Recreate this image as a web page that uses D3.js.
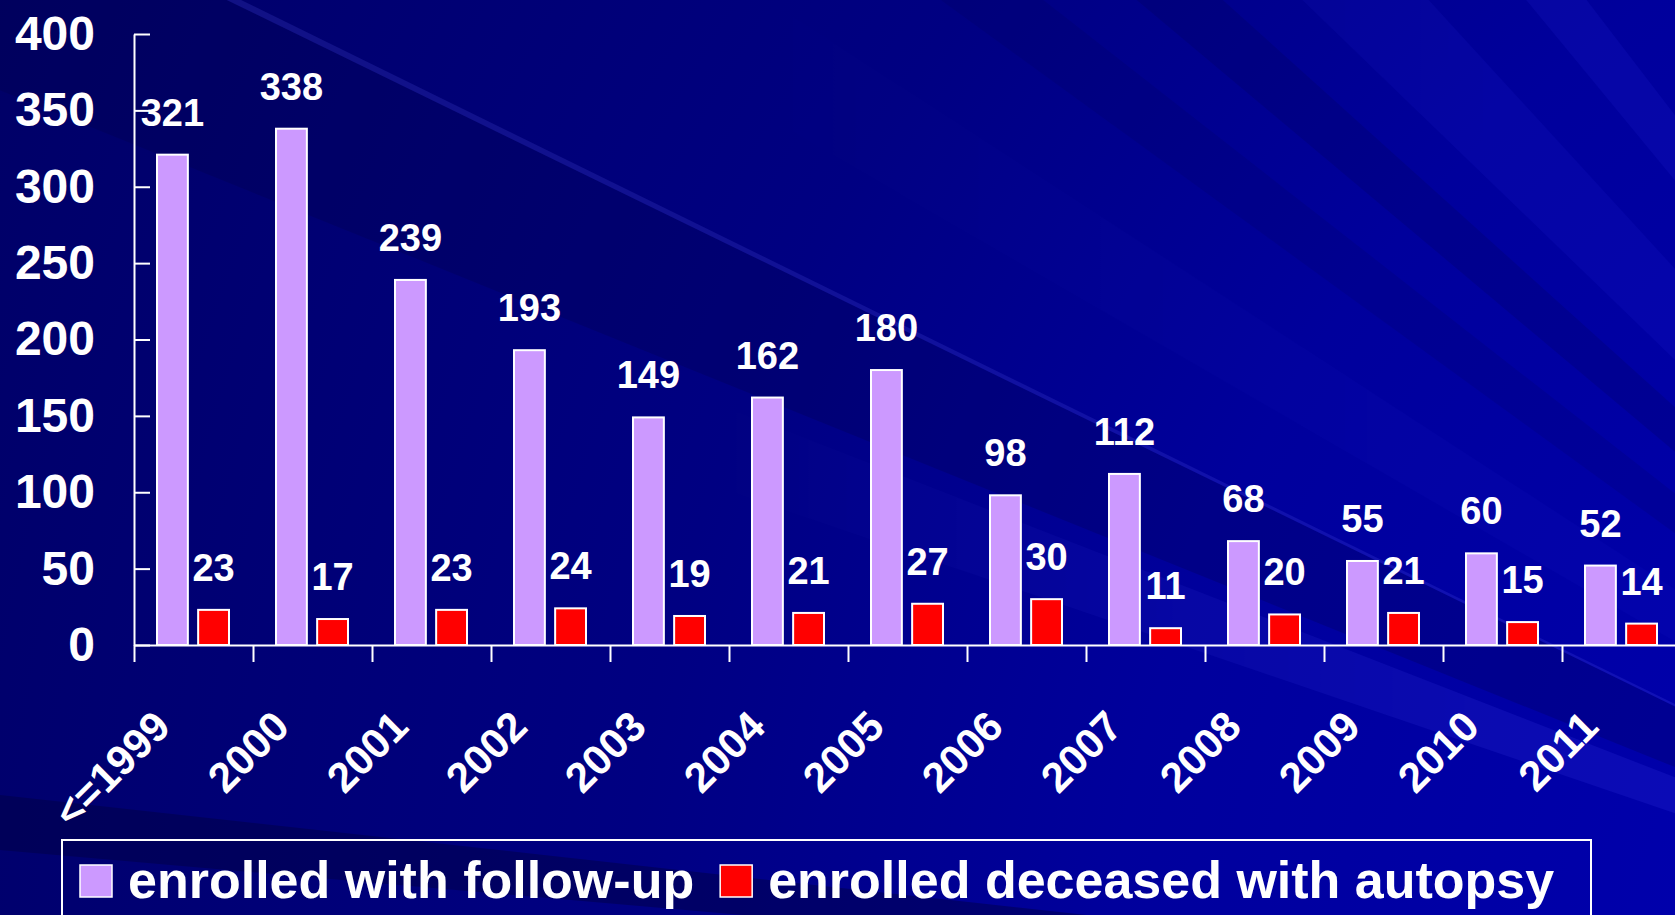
<!DOCTYPE html>
<html>
<head>
<meta charset="utf-8">
<script src="https://cdn.jsdelivr.net/npm/d3@7"></script>
<style>
  html, body { margin: 0; padding: 0; background: #000078; overflow: hidden; }
  svg { display: block; font-family: "Liberation Sans", Arial, sans-serif; font-weight: bold; }
</style>
</head>
<body>
<svg id="chart"></svg>
<script>
// chart values
const categories = ["<=1999", "2000", "2001", "2002", "2003", "2004", "2005", "2006", "2007", "2008", "2009", "2010", "2011"];
const followUp = [321, 338, 239, 193, 149, 162, 180, 98, 112, 68, 55, 60, 52];
const autopsy = [23, 17, 23, 24, 19, 21, 27, 30, 11, 20, 21, 15, 14];
const yTicks = [0, 50, 100, 150, 200, 250, 300, 350, 400];
const seriesNames = ["enrolled with follow-up", "enrolled deceased with autopsy"];
const seriesColors = ["#cc99ff", "#ff0000"];

const width = 1675, height = 915;
const left = 134, bandW = 119, baseY = 645, topY = 34;

const svg = d3.select("#chart").attr("width", width).attr("height", height);

// ---- background (slide design: rays fanning out from lower right) ----
const defs = svg.append("defs");
const O = [2400, 1060];
const rg = defs.append("radialGradient").attr("id", "bg")
  .attr("gradientUnits", "userSpaceOnUse")
  .attr("cx", O[0]).attr("cy", O[1]).attr("r", 2700);
[[0.26, "#0000ac"], [0.48, "#00009c"], [0.66, "#000082"], [1, "#000064"]].forEach(s =>
  rg.append("stop").attr("offset", s[0]).attr("stop-color", s[1]));
svg.append("rect").attr("width", width).attr("height", height).attr("fill", "url(#bg)");

// light streaks only show on the right part of the slide
const fade = defs.append("linearGradient").attr("id", "fade")
  .attr("gradientUnits", "userSpaceOnUse")
  .attr("x1", 700).attr("y1", 0).attr("x2", 1500).attr("y2", 0);
fade.append("stop").attr("offset", 0).attr("stop-color", "#fff").attr("stop-opacity", 0);
fade.append("stop").attr("offset", 1).attr("stop-color", "#fff").attr("stop-opacity", 1);
defs.append("mask").attr("id", "fadeMask")
  .append("rect").attr("width", width).attr("height", height).attr("fill", "url(#fade)");

// [angle from, angle to, colour, opacity, faded]
const rays = [
  [5.0, 6.3, "#000040", 0.45, false],
  [18.8, 21.3, "#5050ff", 0.14, true],
  [22.0, 26.0, "#000040", 0.22, false],
  [26.0, 26.15, "#6a6aff", 0.16, false],
  [30.0, 33.0, "#4040ff", 0.05, true],
  [36.0, 38.0, "#000040", 0.12, false],
  [40.0, 42.0, "#000040", 0.16, false],
  [44.0, 47.5, "#3a3aff", 0.09, true],
  [50.5, 52.5, "#3a3aff", 0.1, true]
];
const rad = d => d * Math.PI / 180;
const rayPath = r => {
  const L = 3600;
  const p1 = [O[0] - L * Math.cos(rad(r[0])), O[1] - L * Math.sin(rad(r[0]))];
  const p2 = [O[0] - L * Math.cos(rad(r[1])), O[1] - L * Math.sin(rad(r[1]))];
  return `M${O[0]},${O[1]}L${p1[0]},${p1[1]}L${p2[0]},${p2[1]}Z`;
};
svg.append("g").selectAll("path").data(rays.filter(r => !r[4])).join("path")
  .attr("d", rayPath).attr("fill", r => r[2]).attr("opacity", r => r[3]);
svg.append("g").attr("mask", "url(#fadeMask)")
  .selectAll("path").data(rays.filter(r => r[4])).join("path")
  .attr("d", rayPath).attr("fill", r => r[2]).attr("opacity", r => r[3]);

// ---- scales ----
const x = d3.scaleBand().domain(categories).range([left, left + bandW * categories.length]).padding(0);
const xInner = d3.scaleBand().domain([0, 1]).range([23, 95]).paddingInner(0.25);
const xEdges = d3.scaleLinear().domain([0, categories.length]).range(x.range());
const y = d3.scaleLinear().domain([0, 400]).range([baseY, topY]);

// ---- axes ----
const yAxis = svg.append("g").attr("transform", `translate(${left},0)`)
  .call(d3.axisLeft(y).tickValues(yTicks).tickSizeInner(-16).tickSizeOuter(0).tickPadding(39));
yAxis.selectAll("path, line").attr("stroke", "#fff").attr("stroke-width", 2);
yAxis.selectAll("text").attr("fill", "#fff").attr("font-size", 48).attr("font-weight", "bold")
  .attr("font-family", "Liberation Sans, Arial, sans-serif");

const xAxis = svg.append("g").attr("transform", `translate(0,${baseY})`)
  .call(d3.axisBottom(xEdges).tickValues(d3.range(categories.length + 1)).tickSizeInner(17).tickSizeOuter(0).tickFormat(""));
xAxis.selectAll("path, line").attr("stroke", "#fff").attr("stroke-width", 2);

// category labels, rotated
svg.append("g").selectAll("text").data(categories).join("text")
  .attr("transform", d => `translate(${x(d) + bandW / 2 - 21},729) rotate(-45)`)
  .attr("text-anchor", "end")
  .attr("fill", "#fff")
  .attr("font-size", 42)
  .text(d => d);

// ---- bars ----
const series = [followUp, autopsy];
const groups = svg.append("g").selectAll("g").data(series).join("g")
  .attr("fill", (d, i) => seriesColors[i]);

groups.each(function (vals, si) {
  const g = d3.select(this);
  g.selectAll("rect").data(vals).join("rect")
    .attr("x", (v, i) => x(categories[i]) + xInner(si))
    .attr("y", v => y(v))
    .attr("width", xInner.bandwidth())
    .attr("height", v => baseY - y(v))
    .attr("stroke", "#fff")
    .attr("stroke-width", 2);
  g.selectAll("text").data(vals).join("text")
    .attr("x", (v, i) => x(categories[i]) + xInner(si) + xInner.bandwidth() / 2)
    .attr("y", v => y(v) - 29)
    .attr("text-anchor", "middle")
    .attr("fill", "#fff")
    .attr("font-size", 38)
    .text(v => v);
});

// ---- legend ----
const legend = svg.append("g");
legend.append("rect")
  .attr("x", 62).attr("y", 840).attr("width", 1529).attr("height", 120)
  .attr("fill", "none").attr("stroke", "#fff").attr("stroke-width", 2);

let lx = 80;
seriesNames.forEach((name, i) => {
  legend.append("rect")
    .attr("x", lx).attr("y", 865).attr("width", 32).attr("height", 32)
    .attr("fill", seriesColors[i]).attr("stroke", "#fff").attr("stroke-width", 1.5);
  const t = legend.append("text")
    .attr("x", lx + 48).attr("y", 898)
    .attr("fill", "#fff").attr("font-size", 52)
    .text(name);
  lx = lx + 48 + t.node().getComputedTextLength() + 26;
});
</script>
</body>
</html>
